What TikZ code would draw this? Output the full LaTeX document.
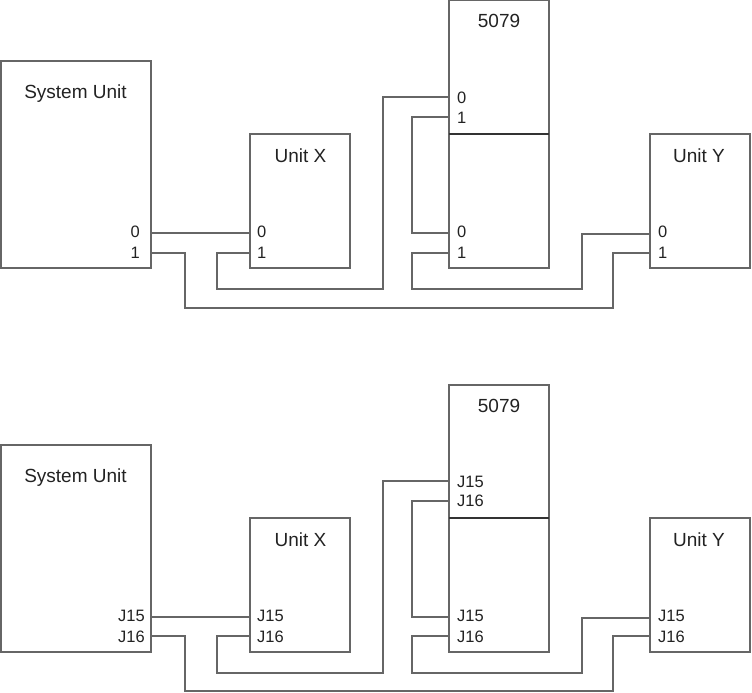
\documentclass[tikz,border=0pt]{standalone}
\usepackage{fontspec}
\setmainfont{Liberation Sans}
\tikzset{
  unitbox/.style={draw=linegray,line width=1.1pt,fill=none,minimum width=100pt,inner sep=0pt,outer sep=0pt},
  wire/.style={draw=linegray,line width=1.1pt,line join=miter},
  titletext/.style={inner sep=0pt,anchor=base,text=textgray,font=\fontsize{19}{21}\selectfont},
  portl/.style={inner sep=0pt,anchor=base west,text=textgray,font=\fontsize{16.5}{18}\selectfont},
  portr/.style={inner sep=0pt,anchor=base east,text=textgray,font=\fontsize{16.5}{18}\selectfont}
}
\definecolor{linegray}{HTML}{666666}
\definecolor{textgray}{HTML}{222222}
\begin{document}
\begin{tikzpicture}[x=1pt,y=-1pt]
\useasboundingbox (0,0) rectangle (752,693);
% ---------- upper panel ----------
\node[unitbox,minimum width=150pt,minimum height=207pt] (su) at (76,164.5) {};
\node[unitbox,minimum height=134pt] (ux) at (300,201) {};
\node[unitbox,minimum height=267.5pt] (mm) at (499,134.25) {};
\node[unitbox,minimum height=134pt] (uy) at (700,201) {};
\draw[wire,draw=black!80] (mm.west |- 0,134) -- (mm.east |- 0,134);
\node[titletext] (tsu) at (75.5,98) {System Unit};
\node[titletext] (tux) at (300.5,162) {Unit X};
\node[titletext] (tmm) at (499,28) {5079};
\node[titletext] (tuy) at (699,162) {Unit Y};
\node[portr] (lsa) at (140,237) {0};
\node[portr] (lsb) at (140,258) {1};
\node[portl] (lxa) at (257,237) {0};
\node[portl] (lxb) at (257,258) {1};
\node[portl] (lma) at (457,103) {0};
\node[portl] (lmb) at (457,123) {1};
\node[portl] (lmc) at (457,237) {0};
\node[portl] (lmd) at (457,258) {1};
\node[portl] (lya) at (658,237) {0};
\node[portl] (lyb) at (658,258) {1};
\coordinate (sa) at (su.east |- 0,233);
\coordinate (sb) at (su.east |- 0,253);
\coordinate (xa) at (ux.west |- 0,233);
\coordinate (xb) at (ux.west |- 0,253);
\coordinate (ma) at (mm.west |- 0,97);
\coordinate (mb) at (mm.west |- 0,117);
\coordinate (mc) at (mm.west |- 0,233);
\coordinate (md) at (mm.west |- 0,253);
\coordinate (ya) at (uy.west |- 0,234);
\coordinate (yb) at (uy.west |- 0,253);
\draw[wire] (sa) -- (xa);
\draw[wire] (sb) -| (185,308) -| (613,253) -- (yb);
\draw[wire] (xb) -| (217,289) -| (383,97) -- (ma);
\draw[wire] (mb) -| (412,233) -- (mc);
\draw[wire] (md) -| (412,289) -| (582,234) -- (ya);
% ---------- lower panel ----------
\node[unitbox,minimum width=150pt,minimum height=207pt] (su2) at (76,548.5) {};
\node[unitbox,minimum height=134pt] (ux2) at (300,585) {};
\node[unitbox,minimum height=267pt] (mm2) at (499,518.5) {};
\node[unitbox,minimum height=134pt] (uy2) at (700,585) {};
\draw[wire,draw=black!80] (mm2.west |- 0,518) -- (mm2.east |- 0,518);
\node[titletext] (tsu2) at (75.5,482) {System Unit};
\node[titletext] (tux2) at (300.5,546) {Unit X};
\node[titletext] (tmm2) at (499,412) {5079};
\node[titletext] (tuy2) at (699,546) {Unit Y};
\node[portr] (lsa2) at (145,621) {J15};
\node[portr] (lsb2) at (145,642) {J16};
\node[portl] (lxa2) at (257,621) {J15};
\node[portl] (lxb2) at (257,642) {J16};
\node[portl] (lma2) at (457,487) {J15};
\node[portl] (lmb2) at (457,506) {J16};
\node[portl] (lmc2) at (457,621) {J15};
\node[portl] (lmd2) at (457,642) {J16};
\node[portl] (lya2) at (658,621) {J15};
\node[portl] (lyb2) at (658,642) {J16};
\coordinate (sa2) at (su2.east |- 0,617);
\coordinate (sb2) at (su2.east |- 0,636);
\coordinate (xa2) at (ux2.west |- 0,617);
\coordinate (xb2) at (ux2.west |- 0,636);
\coordinate (ma2) at (mm2.west |- 0,481);
\coordinate (mb2) at (mm2.west |- 0,501);
\coordinate (mc2) at (mm2.west |- 0,617);
\coordinate (md2) at (mm2.west |- 0,636);
\coordinate (ya2) at (uy2.west |- 0,618);
\coordinate (yb2) at (uy2.west |- 0,636);
\draw[wire] (sa2) -- (xa2);
\draw[wire] (sb2) -| (185,691) -| (613,636) -- (yb2);
\draw[wire] (xb2) -| (217,673) -| (383,481) -- (ma2);
\draw[wire] (mb2) -| (412,617) -- (mc2);
\draw[wire] (md2) -| (412,673) -| (582,618) -- (ya2);
\end{tikzpicture}
\end{document}
